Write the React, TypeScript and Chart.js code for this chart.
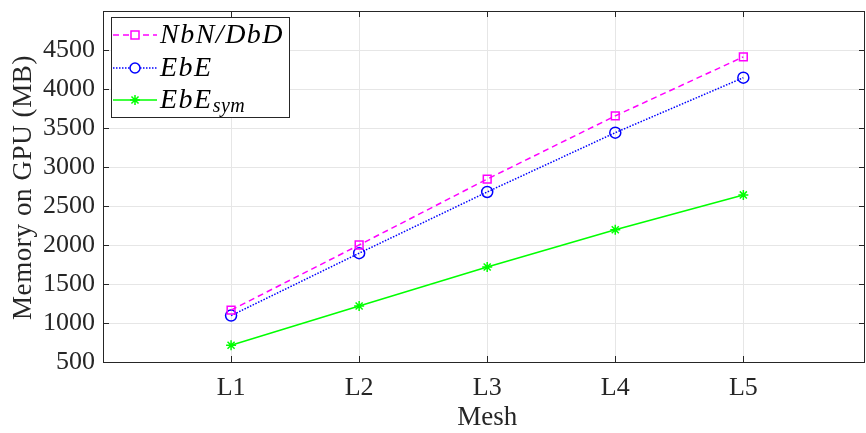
import React, { useEffect, useRef } from "react";
import { Chart, registerables } from "chart.js";

Chart.register(...registerables);

const meshLabels = ["L1", "L2", "L3", "L4", "L5"];
const nbnDbd = [1165, 2000, 2845, 3655, 4412];
const ebe = [1095, 1895, 2680, 3440, 4145];
const ebeSym = [715, 1218, 1718, 2195, 2642];
const yTicks = [500, 1000, 1500, 2000, 2500, 3000, 3500, 4000, 4500];
const xTitle = "Mesh";
const yTitle = "Memory on GPU (MB)";

const TXT = "#262626";
const SERIF = "'Liberation Serif', 'DejaVu Serif', serif";

const legendItems = [
  { main: "NbN/DbD", sub: "", color: "#ff00ff", dash: [6, 4], style: "rect" },
  { main: "EbE", sub: "", color: "#0000ff", dash: [1.5, 1.5], style: "circle" },
  { main: "EbE", sub: "sym", color: "#00ff00", dash: [], style: "star" },
];

const axesPlugin = {
  id: "matlabAxes",
  afterDatasetsDraw(chart: any) {
    const { ctx, chartArea, scales } = chart;
    const { left, right, top, bottom } = chartArea;
    ctx.save();
    ctx.strokeStyle = TXT;
    ctx.lineWidth = 1;
    ctx.setLineDash([]);
    ctx.strokeRect(left + 0.5, top + 0.5, right - left - 1, bottom - top);
    const tl = 6;
    ctx.beginPath();
    yTicks.forEach((v) => {
      const y = Math.round(scales.y.getPixelForValue(v)) + 0.5;
      ctx.moveTo(left, y);
      ctx.lineTo(left + tl, y);
      ctx.moveTo(right, y);
      ctx.lineTo(right - tl, y);
    });
    meshLabels.forEach((_, i) => {
      const x = Math.round(scales.x.getPixelForValue(i + 1)) + 0.5;
      ctx.moveTo(x, bottom);
      ctx.lineTo(x, bottom - tl);
      ctx.moveTo(x, top);
      ctx.lineTo(x, top + tl);
    });
    ctx.stroke();

    // axis titles
    ctx.fillStyle = TXT;
    ctx.textAlign = "center";
    ctx.textBaseline = "alphabetic";
    ctx.font = `27px ${SERIF}`;
    ctx.fillText(xTitle, scales.x.getPixelForValue(3), 425);
    ctx.save();
    ctx.translate(31, (top + bottom) / 2 + 1);
    ctx.rotate(-Math.PI / 2);
    ctx.font = `27px ${SERIF}`;
    (ctx as any).letterSpacing = "0.6px";
    ctx.fillText(yTitle, 0, 0);
    ctx.restore();

    // legend
    const bx = 111, by = 17, bw = 178, bh = 100;
    ctx.fillStyle = "#ffffff";
    ctx.fillRect(bx, by, bw, bh);
    ctx.strokeStyle = TXT;
    ctx.strokeRect(bx + 0.5, by + 0.5, bw, bh);
    const rows = [35, 68, 100];
    legendItems.forEach((it, i) => {
      const y = rows[i];
      ctx.save();
      ctx.strokeStyle = it.color;
      ctx.lineWidth = 1.5;
      ctx.setLineDash(it.dash);
      ctx.beginPath();
      ctx.moveTo(113, y);
      ctx.lineTo(157, y);
      ctx.stroke();
      ctx.setLineDash([]);
      ctx.fillStyle = "#ffffff";
      if (it.style === "rect") {
        ctx.fillRect(131, y - 4, 8, 8);
        ctx.strokeRect(131, y - 4, 8, 8);
      } else if (it.style === "circle") {
        ctx.beginPath();
        ctx.arc(135, y, 5, 0, Math.PI * 2);
        ctx.fill();
        ctx.stroke();
      } else {
        ctx.beginPath();
        for (let k = 0; k < 4; k++) {
          const a = (k * Math.PI) / 4;
          ctx.moveTo(135 - 5 * Math.cos(a), y - 5 * Math.sin(a));
          ctx.lineTo(135 + 5 * Math.cos(a), y + 5 * Math.sin(a));
        }
        ctx.stroke();
      }
      ctx.restore();
      ctx.save();
      ctx.fillStyle = "#000000";
      ctx.textBaseline = "alphabetic";
      ctx.textAlign = "left";
      ctx.font = `italic 28px ${SERIF}`;
      (ctx as any).letterSpacing = "1.5px";
      ctx.fillText(it.main, 160, y + 8);
      if (it.sub) {
        const w = ctx.measureText(it.main).width;
        ctx.font = `italic 20px ${SERIF}`;
        (ctx as any).letterSpacing = "0.5px";
        ctx.fillText(it.sub, 160 + w, y + 12);
      }
      ctx.restore();
    });
    ctx.restore();
  },
};

export default function App() {
  const ref = useRef<HTMLCanvasElement>(null);
  useEffect(() => {
    if (!ref.current) return;
    const mk = (vals: number[]) => vals.map((v, i) => ({ x: i + 1, y: v }));
    const chart = new Chart(ref.current, {
      type: "line",
      data: {
        datasets: [
          {
            label: "NbN/DbD",
            data: mk(nbnDbd),
            borderColor: "#ff00ff",
            backgroundColor: "#ffffff",
            borderWidth: 1.5,
            borderDash: [6, 4],
            pointStyle: "rect",
            pointRadius: 5.5,
            pointBorderWidth: 1.5,
            pointBorderColor: "#ff00ff",
            pointBackgroundColor: "rgba(0,0,0,0)",
          },
          {
            label: "EbE",
            data: mk(ebe),
            borderColor: "#0000ff",
            backgroundColor: "#ffffff",
            borderWidth: 1.5,
            borderDash: [1.5, 1.5],
            pointStyle: "circle",
            pointRadius: 5.5,
            pointBorderWidth: 1.5,
            pointBorderColor: "#0000ff",
            pointBackgroundColor: "rgba(0,0,0,0)",
          },
          {
            label: "EbE_sym",
            data: mk(ebeSym),
            borderColor: "#00ff00",
            backgroundColor: "#00ff00",
            borderWidth: 1.5,
            pointStyle: "star",
            pointRadius: 5,
            pointBorderWidth: 1.5,
            pointBorderColor: "#00ff00",
          },
        ],
      },
      options: {
        animation: false,
        responsive: false,
        maintainAspectRatio: false,
        layout: { padding: { left: 0, right: 1, top: 11, bottom: 0 } },
        plugins: { legend: { display: false }, tooltip: { enabled: false } },
        scales: {
          x: {
            type: "linear",
            min: 0,
            max: 5.95,
            afterBuildTicks: (s: any) => {
              s.ticks = meshLabels.map((_, i) => ({ value: i + 1 }));
            },
            afterFit: (s: any) => {
              s.height = 71;
              s.paddingLeft = 0;
              s.paddingRight = 0;
            },
            ticks: {
              autoSkip: false,
              maxRotation: 0,
              padding: 11,
              color: TXT,
              font: { family: SERIF, size: 26 },
              callback: (v: any) => meshLabels[Math.round(v) - 1] ?? "",
            },
            grid: { color: "#e6e6e6", drawTicks: false, lineWidth: 1 },
            border: { display: false },
          },
          y: {
            min: 500,
            max: 5000,
            afterBuildTicks: (s: any) => {
              s.ticks = yTicks.map((v) => ({ value: v }));
            },
            afterFit: (s: any) => {
              s.width = 103;
              s.paddingTop = 0;
              s.paddingBottom = 0;
            },
            ticks: {
              autoSkip: false,
              padding: 8,
              color: TXT,
              font: { family: SERIF, size: 26 },
              callback: (v: any) => String(v),
            },
            grid: { color: "#e6e6e6", drawTicks: false, lineWidth: 1 },
            border: { display: false },
          },
        },
      },
      plugins: [axesPlugin],
    });
    return () => chart.destroy();
  }, []);
  return (
    <div style={{ position: "fixed", left: 0, top: 0, width: 866, height: 433, overflow: "hidden", background: "#fff" }}>
      <canvas ref={ref} width={872} height={433} style={{ display: "block" }} />
    </div>
  );
}
